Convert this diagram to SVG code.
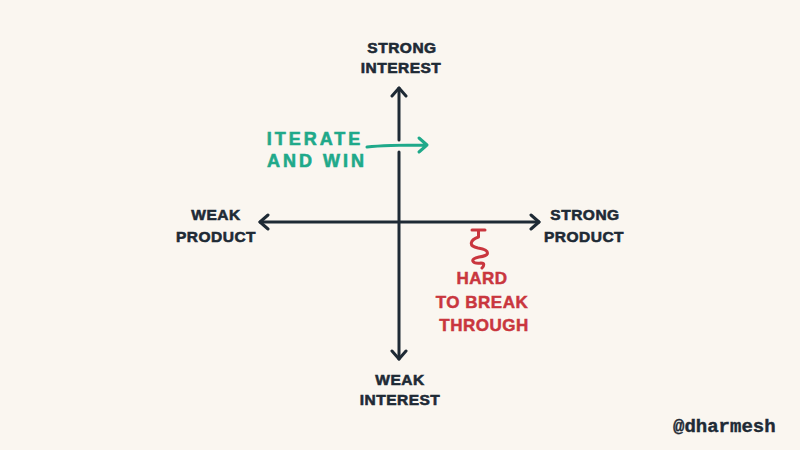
<svg xmlns="http://www.w3.org/2000/svg" width="800" height="450" viewBox="0 0 800 450">
<style>
.t{font-family:"Liberation Sans",Arial,sans-serif;font-weight:bold;font-size:15.5px;fill:#1e2a35;stroke:#1e2a35;stroke-width:0.6;text-anchor:middle;letter-spacing:0.5px}
.g{font-family:"Liberation Sans",Arial,sans-serif;font-weight:bold;font-size:18px;fill:#1fa98a;stroke:#1fa98a;stroke-width:0.6;text-anchor:middle;letter-spacing:3px}
.r{font-family:"Liberation Sans",Arial,sans-serif;font-weight:bold;font-size:17px;fill:#c9363e;stroke:#c9363e;stroke-width:0.5;text-anchor:middle;letter-spacing:0.5px}
.ax{stroke:#1e2a35;stroke-width:3;fill:none;stroke-linecap:round;stroke-linejoin:round}
</style>
<rect width="800" height="450" fill="#faf6f0"/>
<g id="connectors">
<path class="ax" d="M399,88 V140 M399,152 V359"/>
<path class="ax" d="M392,96 L399,88 L406,96 M392,351 L399,359 L406,351"/>
<path class="ax" d="M260,222 H539"/>
<path class="ax" d="M268,215 L260,222 L268,229 M531,215 L539,222 L531,229"/>
<path d="M367,147 C385,145 405,145 427,145 M419,138 L427,145 L419,152" stroke="#1fa98a" stroke-width="3" fill="none" stroke-linecap="round" stroke-linejoin="round"/>
<path d="M472,230 H485 M478.5,230 V237 C470,240 468,246 478,248 C491,250 490,256 479,257 C469,259 472,264 481,263 C485,263 484,266 482,268" stroke="#c9363e" stroke-width="3" fill="none" stroke-linecap="round" stroke-linejoin="round"/>
</g>
<g id="strong-interest"><text class="t" x="402" y="53">STRONG</text><text class="t" x="401" y="73">INTEREST</text></g>
<g id="weak-interest"><text class="t" x="400" y="385">WEAK</text><text class="t" x="400" y="405">INTEREST</text></g>
<g id="weak-product"><text class="t" x="216" y="220">WEAK</text><text class="t" x="216" y="242">PRODUCT</text></g>
<g id="strong-product"><text class="t" x="585" y="220">STRONG</text><text class="t" x="584" y="242">PRODUCT</text></g>
<g id="iterate-and-win"><text class="g" x="315" y="145">ITERATE</text><text class="g" x="317" y="167">AND WIN</text></g>
<g id="hard-to-break-through"><text class="r" x="482" y="284">HARD</text><text class="r" x="482" y="308">TO BREAK</text><text class="r" x="484" y="331">THROUGH</text></g>
<g id="credit"><text x="673" y="432" style="font-family:'Liberation Mono',monospace;font-weight:bold;font-size:19px;fill:#1e2a35;stroke:#1e2a35;stroke-width:0.4">@dharmesh</text></g>
</svg>
